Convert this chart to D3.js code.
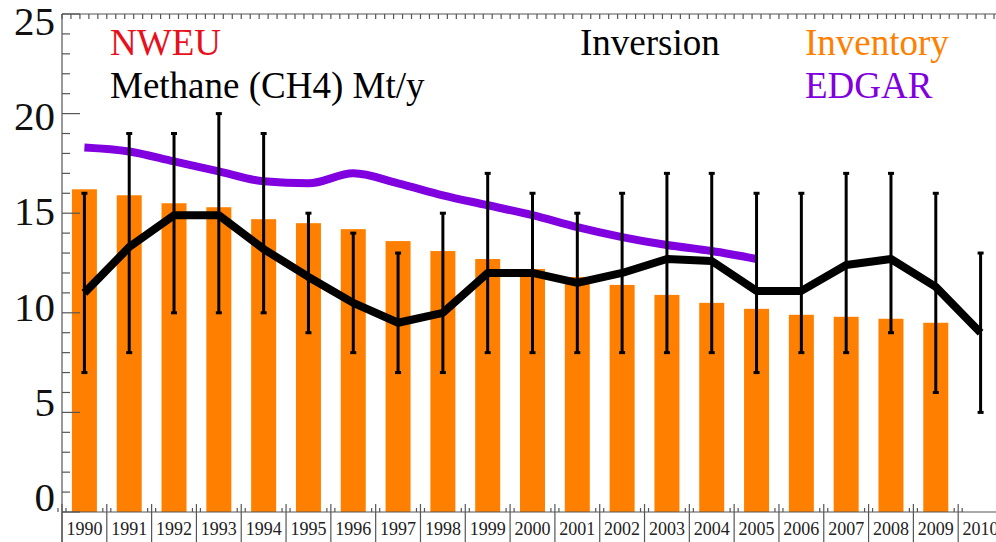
<!DOCTYPE html>
<html><head><meta charset="utf-8">
<script src="https://cdn.jsdelivr.net/npm/d3@7"></script>
<style>body{margin:0;background:#fff}svg{display:block;font-family:"Liberation Serif",serif}</style>
</head><body><svg width="996" height="542"></svg>
<script>
const years = d3.range(1990, 2011);
const inventory = [16.2,15.9,15.5,15.3,14.7,14.5,14.2,13.6,13.1,12.7,12.2,11.8,11.4,10.9,10.5,10.2,9.9,9.8,9.7,9.5];
const inversion = [11.0,13.3,14.9,14.9,13.2,11.8,10.5,9.5,10.0,12.0,12.0,11.5,12.0,12.7,12.6,11.1,11.1,12.4,12.7,11.3,9.0];
const invLow  = [7,8,10,10,10,9,8,7,7,8,8,8,8,8,8,7,8,8,9,6,5];
const invHigh = [16,19,19,20,19,15,14,13,15,17,16,15,16,17,17,16,16,17,17,16,13];
const edgar = [18.3,18.1,17.6,17.1,16.6,16.5,17.0,16.5,15.9,15.4,14.9,14.3,13.8,13.4,13.1,12.7];
const yTicks = [0,5,10,15,20,25];

const svg = d3.select("svg");
const mLeft = 62, mRight = 1003, mTop = 14, mBottom = 512;
const x = d3.scaleBand().domain(years).range([mLeft, mRight]);
const cx = d => x(d) + x.bandwidth() / 2;
const y = d3.scaleLinear().domain([0, 25]).range([mBottom, mTop]);
const yLab = d3.scaleLinear().domain([0, 25]).range([497, 21]);

// bars
svg.append("g").selectAll("rect").data(inventory).enter().append("rect")
  .attr("x", (d, i) => cx(years[i]) - 12.5).attr("width", 25)
  .attr("y", d => y(d)).attr("height", d => y(0) - y(d))
  .attr("fill", "#ff8000");

// EDGAR
svg.append("path").datum(edgar)
  .attr("fill", "none").attr("stroke", "#8000e0").attr("stroke-width", 8)
  .attr("d", d3.line().x((d, i) => cx(years[i])).y(d => y(d)).curve(d3.curveMonotoneX));

// error bars
const eb = svg.append("g").attr("stroke", "#000").attr("stroke-width", 3);
years.forEach((yr, i) => {
  eb.append("line").attr("x1", cx(yr)).attr("x2", cx(yr)).attr("y1", y(invLow[i])).attr("y2", y(invHigh[i]));
  eb.append("line").attr("x1", cx(yr) - 3).attr("x2", cx(yr) + 3).attr("y1", y(invLow[i])).attr("y2", y(invLow[i]));
  eb.append("line").attr("x1", cx(yr) - 3).attr("x2", cx(yr) + 3).attr("y1", y(invHigh[i])).attr("y2", y(invHigh[i]));
});

// inversion
svg.append("path").datum(inversion)
  .attr("fill", "none").attr("stroke", "#000").attr("stroke-width", 8).attr("stroke-linejoin", "round")
  .attr("d", d3.line().x((d, i) => cx(years[i])).y(d => y(d)));

// frame
const ax = svg.append("g").attr("stroke", "#555").attr("stroke-width", 1.2);
ax.append("line").attr("x1", mLeft).attr("x2", mLeft).attr("y1", mTop).attr("y2", 542);
ax.append("line").attr("x1", mLeft).attr("x2", 996).attr("y1", mTop).attr("y2", mTop);
ax.append("line").attr("x1", mLeft).attr("x2", 996).attr("y1", mBottom).attr("y2", mBottom);
d3.range(0, 26).forEach(v => {
  ax.append("line").attr("x1", mLeft).attr("x2", mLeft + (v % 5 ? 8 : 18)).attr("y1", y(v)).attr("y2", y(v));
});
d3.range(0, 21 * 5 + 1).forEach(k => {
  const px = mLeft + k * x.bandwidth() / 5;
  ax.append("line").attr("x1", px).attr("x2", px).attr("y1", mTop).attr("y2", mTop + 5);
});
years.forEach(yr => {
  ax.append("line").attr("x1", x(yr)).attr("x2", x(yr)).attr("y1", mBottom - 8).attr("y2", 542);
  ax.append("line").attr("x1", x(yr) + 4).attr("x2", x(yr) + 4).attr("y1", mBottom - 4).attr("y2", mBottom);
  ax.append("line").attr("x1", x(yr) - 4).attr("x2", x(yr) - 4).attr("y1", mBottom - 4).attr("y2", mBottom);
});

svg.append("g").selectAll("text").data(years).enter().append("text")
  .attr("x", d => cx(d)).attr("y", 535).attr("text-anchor", "middle")
  .attr("font-size", 18).attr("fill", "#222").text(d => d);

svg.append("g").selectAll("text").data(yTicks).enter().append("text")
  .attr("x", 55).attr("y", d => yLab(d) + 14).attr("text-anchor", "end")
  .attr("font-size", 41).attr("fill", "#111").text(d => d);

// legend texts
const leg = [
  ["NWEU", 110, 55, "#e8101c"],
  ["Methane (CH4) Mt/y", 110, 98, "#000"],
  ["Inversion", 580, 55, "#000"],
  ["Inventory", 805, 55, "#ff8000"],
  ["EDGAR", 805, 98, "#8000e0"]
];
svg.append("g").selectAll("text").data(leg).enter().append("text")
  .attr("x", d => d[1]).attr("y", d => d[2]).attr("fill", d => d[3])
  .attr("font-size", 37).text(d => d[0]);
</script></body></html>
